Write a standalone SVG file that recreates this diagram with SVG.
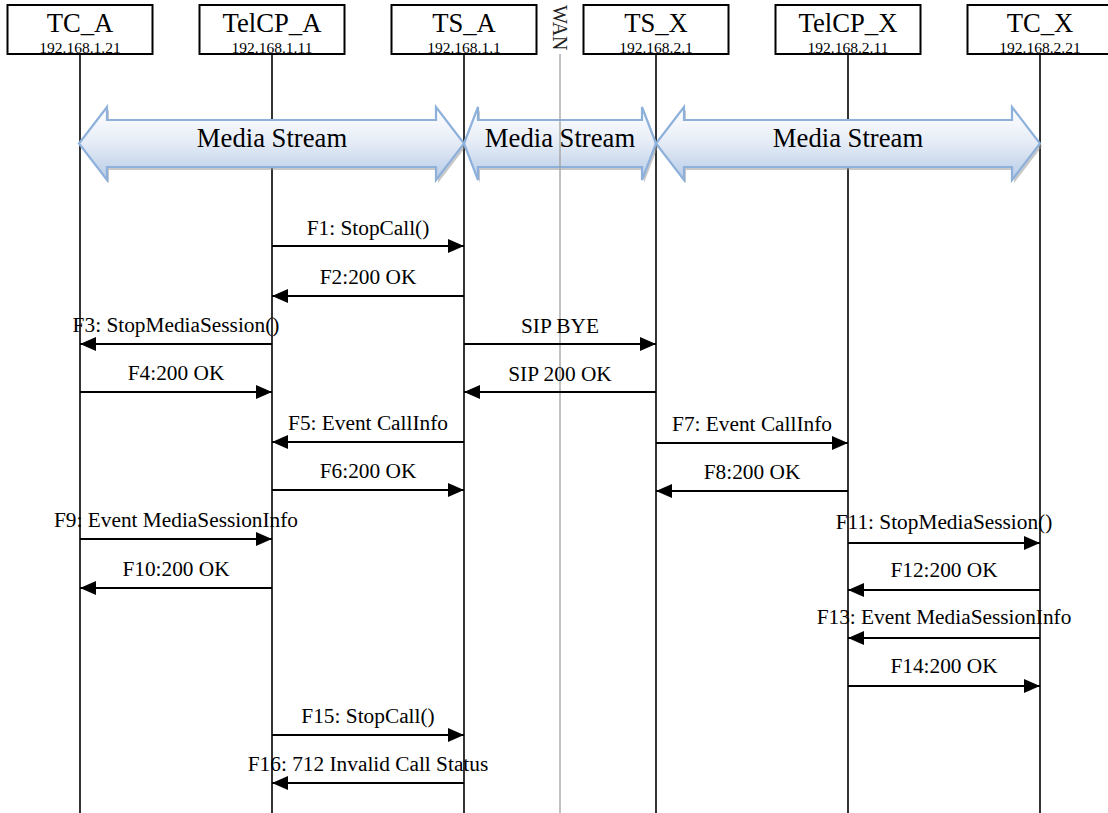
<svg xmlns="http://www.w3.org/2000/svg" width="1108" height="813" viewBox="0 0 1108 813">
<style>
.box{fill:#fff;stroke:#000;stroke-width:2}
.name{font-family:"Liberation Serif","Times New Roman",serif;font-size:26.67px;text-anchor:middle;fill:#000}
.ip{font-family:"Liberation Serif","Times New Roman",serif;font-size:15.5px;text-anchor:middle;fill:#000}
.life{stroke:#000;stroke-width:1.6;fill:none}
.msg{stroke:#000;stroke-width:2;fill:none;marker-end:url(#ah)}
.lbl{font-family:"Liberation Serif","Times New Roman",serif;font-size:21.33px;text-anchor:middle;fill:#000}
.ms{fill:url(#msg);stroke:#8eb1dc;stroke-width:2.2;stroke-linejoin:miter}
.msh{fill:#9a9a9a;opacity:0.55}
.mst{font-family:"Liberation Serif","Times New Roman",serif;font-size:26.67px;text-anchor:middle;fill:#000}
.wan{stroke:#a0a0a0;stroke-width:1.3}
</style>
<defs>
<linearGradient id="msg" x1="0" y1="0" x2="0" y2="1">
<stop offset="0" stop-color="#ffffff"/>
<stop offset="0.45" stop-color="#e8eef7"/>
<stop offset="1" stop-color="#b7cbe6"/>
</linearGradient>
<marker id="ah" markerUnits="userSpaceOnUse" markerWidth="16" markerHeight="14" refX="16" refY="7" orient="auto">
<path d="M0,0 L16,7 L0,14 Z" fill="#000"/>
</marker>
</defs>
<rect width="1108" height="813" fill="#fff"/>

<g id="TC_A">
<line class="life" x1="80" y1="54" x2="80" y2="813"/>
<rect class="box" x="7.5" y="5" width="145" height="49"/>
<text class="name" x="80" y="32">TC_A</text>
<text class="ip" x="80" y="53">192.168.1.21</text>
</g>
<g id="TelCP_A">
<line class="life" x1="272" y1="54" x2="272" y2="813"/>
<rect class="box" x="199.5" y="5" width="145" height="49"/>
<text class="name" x="272" y="32">TelCP_A</text>
<text class="ip" x="272" y="53">192.168.1.11</text>
</g>
<g id="TS_A">
<line class="life" x1="464" y1="54" x2="464" y2="813"/>
<rect class="box" x="391.5" y="5" width="145" height="49"/>
<text class="name" x="464" y="32">TS_A</text>
<text class="ip" x="464" y="53">192.168.1.1</text>
</g>
<g id="TS_X">
<line class="life" x1="656" y1="54" x2="656" y2="813"/>
<rect class="box" x="583.5" y="5" width="145" height="49"/>
<text class="name" x="656" y="32">TS_X</text>
<text class="ip" x="656" y="53">192.168.2.1</text>
</g>
<g id="TelCP_X">
<line class="life" x1="848" y1="54" x2="848" y2="813"/>
<rect class="box" x="775.5" y="5" width="145" height="49"/>
<text class="name" x="848" y="32">TelCP_X</text>
<text class="ip" x="848" y="53">192.168.2.11</text>
</g>
<g id="TC_X">
<line class="life" x1="1040" y1="54" x2="1040" y2="813"/>
<rect class="box" x="967.5" y="5" width="145" height="49"/>
<text class="name" x="1040" y="32">TC_X</text>
<text class="ip" x="1040" y="53">192.168.2.21</text>
</g>

<g id="media_streams">
<path class="msh" transform="translate(2,3)" d="M79,143.5 L107,107 L107,120 L436,120 L436,107 L464,143.5 L436,180 L436,167 L107,167 L107,180 Z"/>
<path class="ms" d="M79,143.5 L107,107 L107,120 L436,120 L436,107 L464,143.5 L436,180 L436,167 L107,167 L107,180 Z"/>
<path class="msh" transform="translate(2,3)" d="M464,143.5 L478,107 L478,120 L642,120 L642,107 L656,143.5 L642,180 L642,167 L478,167 L478,180 Z"/>
<path class="ms" d="M464,143.5 L478,107 L478,120 L642,120 L642,107 L656,143.5 L642,180 L642,167 L478,167 L478,180 Z"/>
<path class="msh" transform="translate(2,3)" d="M656,143.5 L684,107 L684,120 L1012,120 L1012,107 L1040,143.5 L1012,180 L1012,167 L684,167 L684,180 Z"/>
<path class="ms" d="M656,143.5 L684,107 L684,120 L1012,120 L1012,107 L1040,143.5 L1012,180 L1012,167 L684,167 L684,180 Z"/>
</g>

<g id="WAN">
<line class="wan" x1="560" y1="54" x2="560" y2="813"/>
<text x="553" y="5" transform="rotate(90 553 5)" font-family="'Liberation Serif','Times New Roman',serif" font-size="20" fill="#222">WAN</text>
</g>

<g id="media_labels">
<text class="mst" x="272" y="147">Media Stream</text>
<text class="mst" x="560" y="147">Media Stream</text>
<text class="mst" x="848" y="147">Media Stream</text>
</g>

<g id="connectors">
<line class="msg" x1="272" y1="246" x2="464" y2="246"/>
<text class="lbl" x="368" y="235">F1: StopCall()</text>
<line class="msg" x1="464" y1="296" x2="272" y2="296"/>
<text class="lbl" x="368" y="284">F2:200 OK</text>
<line class="msg" x1="272" y1="344" x2="80" y2="344"/>
<text class="lbl" x="176" y="332">F3: StopMediaSession()</text>
<line class="msg" x1="80" y1="392" x2="272" y2="392"/>
<text class="lbl" x="176" y="380">F4:200 OK</text>
<line class="msg" x1="464" y1="344" x2="656" y2="344"/>
<text class="lbl" x="560" y="333">SIP BYE</text>
<line class="msg" x1="656" y1="392" x2="464" y2="392"/>
<text class="lbl" x="560" y="381">SIP 200 OK</text>
<line class="msg" x1="464" y1="442" x2="272" y2="442"/>
<text class="lbl" x="368" y="430">F5: Event CallInfo</text>
<line class="msg" x1="656" y1="443" x2="848" y2="443"/>
<text class="lbl" x="752" y="431">F7: Event CallInfo</text>
<line class="msg" x1="272" y1="490" x2="464" y2="490"/>
<text class="lbl" x="368" y="478">F6:200 OK</text>
<line class="msg" x1="848" y1="491" x2="656" y2="491"/>
<text class="lbl" x="752" y="479">F8:200 OK</text>
<line class="msg" x1="80" y1="539" x2="272" y2="539"/>
<text class="lbl" x="176" y="527">F9: Event MediaSessionInfo</text>
<line class="msg" x1="272" y1="588" x2="80" y2="588"/>
<text class="lbl" x="176" y="576">F10:200 OK</text>
<line class="msg" x1="848" y1="543" x2="1040" y2="543"/>
<text class="lbl" x="944" y="529">F11: StopMediaSession()</text>
<line class="msg" x1="1040" y1="590" x2="848" y2="590"/>
<text class="lbl" x="944" y="577">F12:200 OK</text>
<line class="msg" x1="1040" y1="638" x2="848" y2="638"/>
<text class="lbl" x="944" y="624">F13: Event MediaSessionInfo</text>
<line class="msg" x1="848" y1="686" x2="1040" y2="686"/>
<text class="lbl" x="944" y="673">F14:200 OK</text>
<line class="msg" x1="272" y1="735" x2="464" y2="735"/>
<text class="lbl" x="368" y="723">F15: StopCall()</text>
<line class="msg" x1="464" y1="783" x2="272" y2="783"/>
<text class="lbl" x="368" y="771">F16: 712 Invalid Call Status</text>
</g>
</svg>
